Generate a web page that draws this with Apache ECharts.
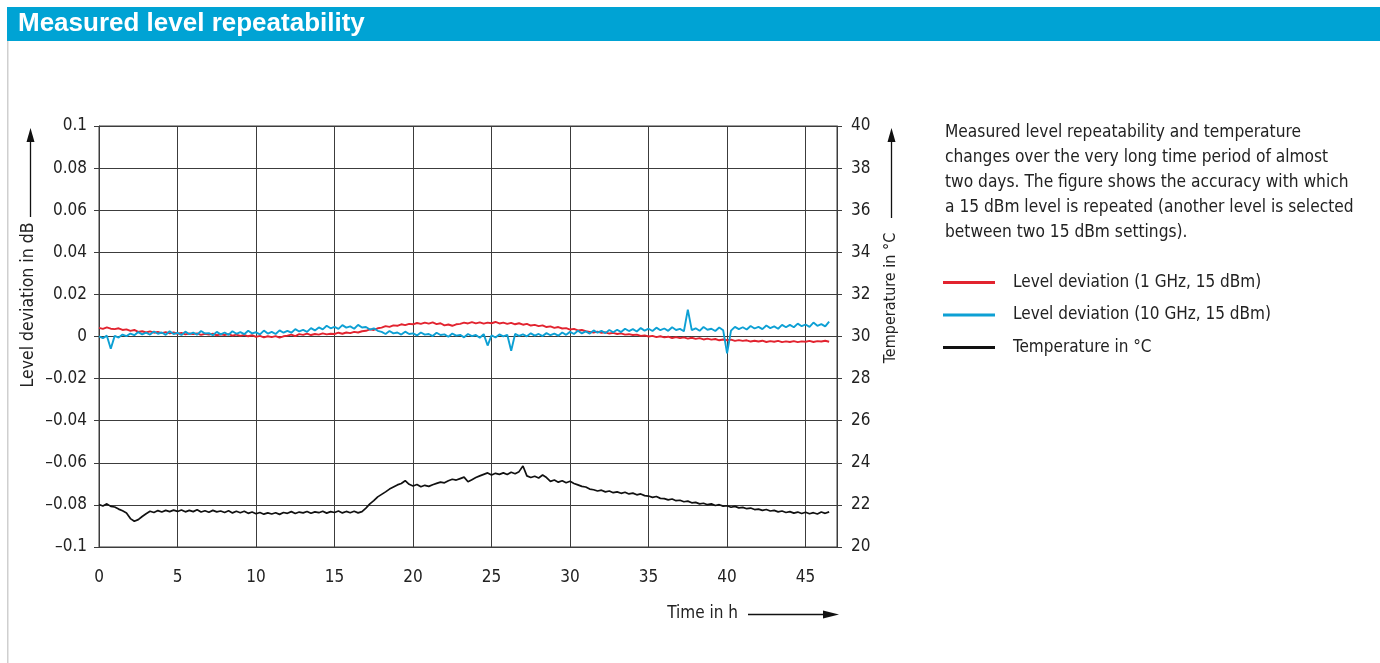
<!DOCTYPE html>
<html>
<head>
<meta charset="utf-8">
<script src="https://cdn.jsdelivr.net/npm/echarts@6/dist/echarts.min.js"></script>
<style>
html,body{margin:0;padding:0;background:#fff;}
#chart{width:1380px;height:663px;}
</style>
</head>
<body>
<div id="chart"></div>
<script>
// ---- data ----
const stepH = 0.25; // samples every 0.25 h, starting at 0 h
const xTicks = [0, 5, 10, 15, 20, 25, 30, 35, 40, 45];
const levelTicks = [-0.1, -0.08, -0.06, -0.04, -0.02, 0, 0.02, 0.04, 0.06, 0.08, 0.1];
const tempTicks = [20, 22, 24, 26, 28, 30, 32, 34, 36, 38, 40];

const level1GHz = [
 0.0041,0.0036,0.0043,0.0037, 0.0035,0.0039,0.0031,0.0034, 0.0027,0.0031,0.0022,0.0025,
 0.0019,0.0024,0.0018,0.0022, 0.0016,0.0021,0.0015,0.0019, 0.0013,0.0017,0.0010,0.0014,
 0.0011,0.0015,0.0008,0.0013, 0.0009,0.0013,0.0006,0.0010, 0.0007,0.0011,0.0004,0.0009,
 0.0003,0.0008,0.0001,0.0006, -0.0002,0.0003,-0.0004,0.0001, -0.0003,0.0002,-0.0005,0.0001,
 0.0004,0.0009,0.0002,0.0011, 0.0008,0.0014,0.0007,0.0012, 0.0009,0.0015,0.0010,0.0013,
 0.0012,0.0018,0.0013,0.0019, 0.0016,0.0022,0.0019,0.0025, 0.0027,0.0034,0.0031,0.0039,
 0.0042,0.0049,0.0046,0.0053, 0.0051,0.0058,0.0054,0.0060, 0.0058,0.0064,0.0060,0.0066,
 0.0061,0.0067,0.0059,0.0063, 0.0053,0.0057,0.0051,0.0058, 0.0060,0.0066,0.0062,0.0068,
 0.0062,0.0067,0.0061,0.0066, 0.0063,0.0069,0.0062,0.0066, 0.0060,0.0065,0.0058,0.0063,
 0.0056,0.0060,0.0052,0.0055, 0.0049,0.0053,0.0045,0.0048, 0.0041,0.0045,0.0038,0.0040,
 0.0033,0.0036,0.0029,0.0031, 0.0025,0.0022,0.0019,0.0023, 0.0017,0.0020,0.0014,0.0017,
 0.0012,0.0015,0.0009,0.0011, 0.0007,0.0009,0.0003,0.0005, 0.0000,0.0003,-0.0003,0.0001,
 -0.0004,-0.0001,-0.0007,-0.0003, -0.0008,-0.0004,-0.0010,-0.0006, -0.0011,-0.0008,-0.0014,-0.0010,
 -0.0015,-0.0012,-0.0018,-0.0014, -0.0018,-0.0015,-0.0021,-0.0017, -0.0021,-0.0018,-0.0024,-0.0020,
 -0.0024,-0.0020,-0.0026,-0.0022, -0.0025,-0.0021,-0.0027,-0.0023, -0.0026,-0.0022,-0.0027,-0.0023,
 -0.0025,-0.0021,-0.0026,-0.0022, -0.0024,-0.0020,-0.0025
];

const level10GHz = [
 0.0001,-0.0008,0.0004,-0.0058, 0.0003,-0.0005,0.0009,0.0002, 0.0014,0.0006,0.0021,0.0010,
 0.0018,0.0009,0.0024,0.0013, 0.0019,0.0008,0.0025,0.0012, 0.0017,0.0007,0.0023,0.0011,
 0.0018,0.0009,0.0026,0.0014, 0.0016,0.0006,0.0022,0.0010, 0.0019,0.0008,0.0025,0.0013,
 0.0021,0.0011,0.0027,0.0015, 0.0020,0.0010,0.0028,0.0014, 0.0022,0.0012,0.0029,0.0018,
 0.0027,0.0018,0.0035,0.0024, 0.0031,0.0022,0.0040,0.0029, 0.0043,0.0034,0.0051,0.0039,
 0.0046,0.0036,0.0054,0.0042, 0.0048,0.0037,0.0055,0.0043, 0.0045,0.0033,0.0039,0.0027,
 0.0022,0.0012,0.0026,0.0015, 0.0019,0.0009,0.0023,0.0012, 0.0015,0.0005,0.0019,0.0009,
 0.0012,0.0002,0.0018,0.0007, 0.0010,-0.0001,0.0014,0.0004, 0.0008,-0.0004,0.0012,0.0002,
 0.0007,-0.0006,0.0011,-0.0043, 0.0006,-0.0005,0.0010,0.0001, 0.0008,-0.0068,0.0012,0.0003,
 0.0010,0.0001,0.0015,0.0004, 0.0012,0.0002,0.0016,0.0006, 0.0014,0.0004,0.0019,0.0008,
 0.0022,0.0012,0.0027,0.0015, 0.0024,0.0014,0.0029,0.0018, 0.0027,0.0016,0.0031,0.0020,
 0.0032,0.0021,0.0037,0.0026, 0.0035,0.0024,0.0040,0.0028, 0.0037,0.0026,0.0042,0.0030,
 0.0038,0.0027,0.0044,0.0031, 0.0036,0.0025,0.0128,0.0030, 0.0039,0.0027,0.0045,0.0032,
 0.0037,0.0026,0.0043,0.0030, -0.0080,0.0028,0.0046,0.0035, 0.0044,0.0033,0.0050,0.0038,
 0.0046,0.0035,0.0052,0.0040, 0.0048,0.0037,0.0055,0.0044, 0.0055,0.0044,0.0061,0.0049,
 0.0057,0.0046,0.0066,0.0051, 0.0059,0.0048,0.0071
];

const temperatureC = [
 22.02,21.95,22.05,21.93, 21.90,21.80,21.72,21.62, 21.35,21.22,21.30,21.45,
 21.58,21.70,21.64,21.73, 21.66,21.74,21.68,21.75, 21.69,21.76,21.67,21.74,
 21.68,21.77,21.66,21.72, 21.65,21.74,21.67,21.71, 21.64,21.72,21.62,21.70,
 21.63,21.70,21.60,21.66, 21.58,21.64,21.56,21.62, 21.57,21.63,21.55,21.64,
 21.60,21.68,21.59,21.66, 21.62,21.69,21.60,21.67, 21.63,21.70,21.61,21.68,
 21.64,21.71,21.62,21.69, 21.63,21.70,21.62,21.68, 21.85,22.05,22.20,22.38,
 22.50,22.62,22.75,22.85, 22.95,23.02,23.15,22.98, 22.90,22.97,22.86,22.93,
 22.88,22.96,23.02,23.08, 23.05,23.15,23.22,23.18, 23.25,23.32,23.10,23.20,
 23.30,23.38,23.45,23.52, 23.42,23.50,23.45,23.52, 23.44,23.55,23.48,23.58,
 23.85,23.38,23.30,23.36, 23.28,23.42,23.30,23.12, 23.18,23.08,23.15,23.05,
 23.12,23.02,22.95,22.88, 22.85,22.75,22.72,22.66, 22.70,22.62,22.66,22.58,
 22.62,22.55,22.60,22.52, 22.56,22.48,22.52,22.44, 22.42,22.36,22.40,22.31,
 22.30,22.24,22.28,22.20, 22.22,22.15,22.18,22.10, 22.12,22.05,22.08,22.01,
 22.05,21.97,22.01,21.94, 21.96,21.89,21.93,21.86, 21.88,21.82,21.85,21.78,
 21.80,21.74,21.78,21.71, 21.74,21.67,21.71,21.64, 21.68,21.61,21.66,21.59,
 21.65,21.58,21.63,21.57, 21.66,21.60,21.67
];

const seriesNames = ['Level deviation (1 GHz, 15 dBm)', 'Level deviation (10 GHz, 15 dBm)', 'Temperature in °C'];
const noteText = 'Measured level repeatability and temperature\nchanges over the very long time period of almost\ntwo days. The figure shows the accuracy with which\na 15 dBm level is repeated (another level is selected\nbetween two 15 dBm settings).';

// ---- chart ----
const FONT = "'Liberation Sans Narrow', 'DejaVu Sans Condensed', 'Roboto Condensed', 'Liberation Sans', sans-serif";
const pairs = arr => arr.map((v, i) => [i * stepH, v]);
const fmtLevel = v => {
  if (Math.abs(v) < 1e-9) return '0';
  return String(parseFloat(v.toFixed(2))).replace('-', '\u2013');
};
const GRIDC = '#3c3c3c';

const chart = echarts.init(document.getElementById('chart'), null, {renderer: 'canvas'});
chart.setOption({
  animation: false,
  backgroundColor: '#fff',
  textStyle: {fontFamily: FONT},
  grid: {left: 99, right: 543, top: 126, bottom: 116, show: true, borderColor: GRIDC, borderWidth: 1},
  legend: {
    orient: 'vertical', left: 943, top: 274, itemWidth: 52, itemHeight: 3, itemGap: 15.5, padding: 0,
    icon: 'rect', selectedMode: false,
    textStyle: {fontFamily: FONT, fontSize: 17, color: '#222', padding: [0, 0, 0, 13]},
    data: seriesNames
  },
  xAxis: {
    type: 'value', min: 0, max: 47, interval: 5,
    axisLine: {show: true, lineStyle: {color: GRIDC}},
    axisTick: {show: true, length: 5, lineStyle: {color: GRIDC}},
    splitLine: {show: true, lineStyle: {color: GRIDC, width: 1}},
    axisLabel: {fontFamily: FONT, fontSize: 17, color: '#222', margin: 22, showMaxLabel: false,
      formatter: v => xTicks.includes(v) ? String(v) : ''}
  },
  yAxis: [{
    type: 'value', min: -0.1, max: 0.1, interval: 0.02, position: 'left',
    axisLine: {show: true, lineStyle: {color: GRIDC}},
    axisTick: {show: true, length: 5, lineStyle: {color: GRIDC}},
    splitLine: {show: true, lineStyle: {color: GRIDC, width: 1}},
    axisLabel: {fontFamily: FONT, fontSize: 17, color: '#222', margin: 12, formatter: fmtLevel}
  }, {
    type: 'value', min: 20, max: 40, interval: 2, position: 'right',
    axisLine: {show: true, lineStyle: {color: GRIDC}},
    axisTick: {show: true, length: 5, lineStyle: {color: GRIDC}},
    splitLine: {show: false},
    axisLabel: {fontFamily: FONT, fontSize: 17, color: '#222', margin: 14,
      formatter: v => tempTicks.includes(v) ? String(v) : ''}
  }],
  series: [{
    name: seriesNames[0], type: 'line', yAxisIndex: 0, data: pairs(level1GHz),
    showSymbol: false, symbol: 'none', color: '#e2232f', lineStyle: {width: 1.9, color: '#e2232f'}, z: 3
  }, {
    name: seriesNames[1], type: 'line', yAxisIndex: 0, data: pairs(level10GHz),
    showSymbol: false, symbol: 'none', color: '#0da0d4', lineStyle: {width: 1.9, color: '#0da0d4'}, z: 4
  }, {
    name: seriesNames[2], type: 'line', yAxisIndex: 1, data: pairs(temperatureC),
    showSymbol: false, symbol: 'none', color: '#111', lineStyle: {width: 1.7, color: '#111'}, z: 5
  }],
  graphic: [
    // header bar
    {type: 'rect', shape: {x: 7, y: 7, width: 1373, height: 34}, style: {fill: '#00a3d4'}, silent: true},
    {type: 'text', x: 18, y: 24, style: {text: 'Measured level repeatability', fill: '#fff',
      font: "bold 26px 'Liberation Sans', Arial, sans-serif", textVerticalAlign: 'middle'}, silent: true},
    {type: 'rect', shape: {x: 7, y: 41, width: 1.5, height: 622}, style: {fill: '#cfcfcf'}, silent: true},
    // left axis name + arrow
    {type: 'text', x: 28, y: 305, rotation: Math.PI / 2, style: {text: 'Level deviation in dB', fill: '#222',
      font: "17.5px " + FONT, textAlign: 'center', textVerticalAlign: 'middle'}, silent: true},
    {type: 'line', shape: {x1: 30.5, y1: 217, x2: 30.5, y2: 140}, style: {stroke: '#111', lineWidth: 1.3}, silent: true},
    {type: 'polygon', shape: {points: [[30.5, 128], [26.5, 142], [34.5, 142]]}, style: {fill: '#111'}, silent: true},
    // right axis name + arrow
    {type: 'text', x: 891, y: 298, rotation: Math.PI / 2, style: {text: 'Temperature in °C', fill: '#222',
      font: "16px " + FONT, textAlign: 'center', textVerticalAlign: 'middle'}, silent: true},
    {type: 'line', shape: {x1: 891.5, y1: 218, x2: 891.5, y2: 140}, style: {stroke: '#111', lineWidth: 1.3}, silent: true},
    {type: 'polygon', shape: {points: [[891.5, 128], [887.5, 142], [895.5, 142]]}, style: {fill: '#111'}, silent: true},
    // x axis name + arrow
    {type: 'text', x: 738, y: 614, style: {text: 'Time in h', fill: '#222', font: "17px " + FONT,
      textAlign: 'right', textVerticalAlign: 'middle'}, silent: true},
    {type: 'line', shape: {x1: 748, y1: 614.5, x2: 825, y2: 614.5}, style: {stroke: '#111', lineWidth: 1.3}, silent: true},
    {type: 'polygon', shape: {points: [[839, 614.5], [823, 610.5], [823, 618.5]]}, style: {fill: '#111'}, silent: true},
    // description text
    {type: 'text', x: 945, y: 120, style: {text: noteText, fill: '#222', font: "17.2px " + FONT, lineHeight: 25}, silent: true}
  ]
});
</script>
</body>
</html>
